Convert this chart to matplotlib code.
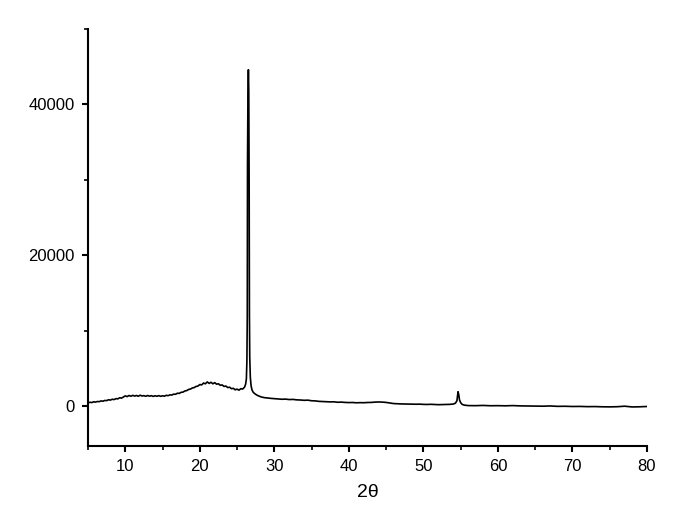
import matplotlib
matplotlib.use("Agg")
import matplotlib.pyplot as plt
from matplotlib.ticker import MultipleLocator

# XRD pattern, values
two_theta = [
    5.00, 5.25, 5.50, 5.75, 6.00, 6.25, 6.50, 6.75, 7.00, 7.25, 7.50, 7.75,
    8.00, 8.25, 8.50, 8.75, 9.00, 9.25, 9.50, 9.75, 10.00, 10.25, 10.50, 10.75,
    11.00, 11.25, 11.50, 11.75, 12.00, 12.25, 12.50, 12.75, 13.00, 13.25, 13.50, 13.75,
    14.00, 14.25, 14.50, 14.75, 15.00, 15.25, 15.50, 15.75, 16.00, 16.25, 16.50, 16.75,
    17.00, 17.25, 17.50, 17.75, 18.00, 18.25, 18.50, 18.75, 19.00, 19.25, 19.50, 19.75,
    20.00, 20.25, 20.50, 20.75, 21.00, 21.25, 21.50, 21.75, 22.00, 22.25, 22.50, 22.75,
    23.00, 23.25, 23.50, 23.75, 24.00, 24.25, 24.50, 24.75, 25.00, 25.25, 25.50, 25.75,
    26.00, 26.15, 26.25, 26.32, 26.37, 26.40, 26.46, 26.52, 26.57, 26.62, 26.66, 26.70,
    26.78, 26.88, 27.00, 27.15, 27.30, 27.50, 27.75, 28.00, 28.25, 28.50, 28.75, 29.00,
    29.50, 30.00, 30.5, 31.0, 31.5, 32.0, 32.5, 33.0, 33.5, 34.0, 34.5, 35.0,
    35.5, 36.0, 36.5, 37.0, 37.5, 38.0, 38.5, 39.0, 39.5, 40.0, 40.5, 41.0,
    41.5, 42.0, 42.5, 43.0, 43.5, 44.0, 44.5, 45.0, 45.5, 46.0, 46.5, 47.0,
    47.5, 48.0, 48.5, 49.0, 49.5, 50.0, 50.5, 51.0, 51.5, 52.0, 52.5, 53.0,
    53.5, 54.0, 54.3, 54.5, 54.65, 54.75, 54.85, 55.0, 55.2, 55.5, 56.0, 57.0,
    58.0, 59.0, 60.0, 61.0, 62.0, 63.0, 64.0, 65.0, 66.0, 67.0, 68.0, 69.0,
    70.0, 71.0, 72.0, 73.0, 74.0, 75.0, 76.0, 77.0, 78.0, 79.0, 80.0,
]
intensity = [
    420, 500, 460, 560, 520, 600, 580, 680, 640, 740, 720, 830,
    790, 900, 860, 980, 950, 1100, 1050, 1200, 1350, 1250, 1400, 1300,
    1420, 1320, 1400, 1300, 1440, 1330, 1380, 1290, 1400, 1310, 1370, 1280,
    1360, 1300, 1380, 1290, 1360, 1310, 1420, 1380, 1480, 1460, 1580, 1560,
    1700, 1680, 1820, 1850, 2000, 2050, 2200, 2250, 2400, 2450, 2600, 2650,
    2850, 2800, 3050, 2950, 3200, 3000, 3150, 2950, 3100, 2900, 2950, 2750,
    2800, 2600, 2650, 2450, 2500, 2300, 2350, 2150, 2250, 2100, 2300, 2250,
    2500, 2900, 3600, 6000, 12000, 32000, 41500, 44600, 41800, 30000, 12000, 6500,
    3800, 2700, 2150, 1850, 1700, 1550, 1400, 1300, 1200, 1150, 1100, 1080,
    1020, 980, 950, 900, 920, 860, 880, 820, 800, 760, 780, 700,
    680, 620, 600, 580, 550, 560, 500, 520, 480, 460, 470, 430,
    450, 440, 470, 480, 520, 540, 520, 480, 400, 330, 300, 280,
    270, 260, 250, 240, 250, 220, 210, 230, 200, 180, 190, 200,
    220, 260, 380, 700, 1900, 1500, 800, 450, 220, 120, 60, 50,
    80, 40, 50, 30, 60, 20, 10, 0, -20, 10, -40, -30,
    -60, -50, -80, -70, -100, -110, -90, -20, -120, -100, -60,
]

x_ticks = [10, 20, 30, 40, 50, 60, 70, 80]
y_ticks = [0, 20000, 40000]

plt.rcParams['font.family'] = ['Liberation Sans', 'DejaVu Sans']

fig = plt.figure(figsize=(6.86, 5.2), dpi=100)
ax = fig.add_axes([0.1283, 0.1423, 0.8148, 0.8019])

ax.plot(two_theta, intensity, color='black', linewidth=1.2)

ax.set_xlim(5, 80)
ax.set_ylim(-5300, 50000)
ax.set_xticks(x_ticks)
ax.set_yticks(y_ticks)
ax.xaxis.set_minor_locator(MultipleLocator(5))
ax.yaxis.set_minor_locator(MultipleLocator(10000))

for side in ['top', 'right']:
    ax.spines[side].set_visible(False)
for side in ['left', 'bottom']:
    ax.spines[side].set_linewidth(1.5)

ax.tick_params(which='major', direction='out', length=4.5, width=1.5, labelsize=12, pad=5)
ax.tick_params(which='minor', direction='out', length=3, width=1.2)

ax.set_xlabel('2θ', fontsize=14, labelpad=7)

fig.savefig('out.png', dpi=100)
